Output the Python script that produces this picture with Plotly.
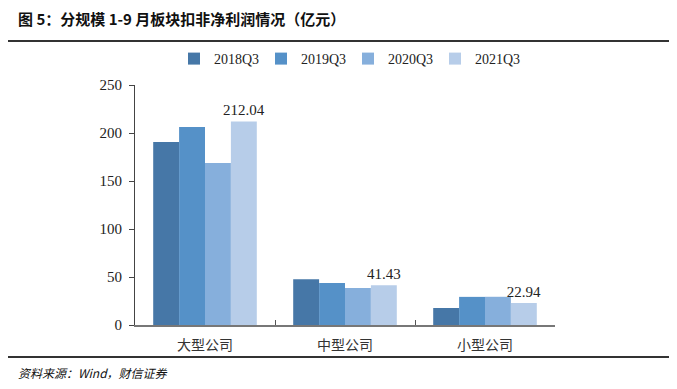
import plotly.graph_objects as go

categories = ["大型公司", "中型公司", "小型公司"]
series_names = ["2018Q3", "2019Q3", "2020Q3", "2021Q3"]
v2018 = [190.6, 47.6, 17.7]
v2019 = [206.3, 43.7, 29.3]
v2020 = [168.8, 38.5, 29.4]
v2021 = [212.04, 41.43, 22.94]
colors = ["#4677a7", "#5591c8", "#86afdc", "#b7cde9"]
tick_vals = [0, 50, 100, 150, 200, 250]

# page offset compensation (page renders the figure shifted by ~8px)
OFF = 8
W, H = 677, 389
L, R, T, B = 135 - OFF, 122 + OFF, 85 - OFF, 64 + OFF
pw, ph = W - L - R, H - T - B
def px(x): return (x - OFF - L) / pw
def py(y): return (H - B - (y - OFF)) / ph

fig = go.Figure()
for name, vals, c in zip(series_names, [v2018, v2019, v2020, v2021], colors):
    kw = {}
    if name == "2021Q3":
        kw = dict(text=[f"{v:.2f}" for v in vals], textposition="outside", constraintext="none",
                  textfont=dict(family="Liberation Serif", size=15, color="#222"),
                  cliponaxis=False)
    fig.add_trace(go.Bar(x=categories, y=vals, name=name,
                         marker=dict(color=c, line=dict(width=0)), **kw))

fig.update_layout(
    width=W, height=H,
    barmode="group", bargap=0.26, bargroupgap=0,
    plot_bgcolor="white", paper_bgcolor="white",
    margin=dict(l=L, r=R, t=T, b=B, autoexpand=False),
    showlegend=True,
    legend=dict(orientation="h", x=px(174), y=py(43), xref="paper", yref="paper",
                yanchor="top", xanchor="left",
                font=dict(family="Liberation Serif", size=14, color="#222"),
                itemwidth=30, traceorder="normal", entrywidth=42, entrywidthmode="pixels"),
    font=dict(family="Liberation Serif", size=14, color="#222"),
)
fig.update_yaxes(range=[0, 250], tickvals=tick_vals, showgrid=False, showline=True, automargin=False,
                 linecolor="#444", linewidth=1, ticks="outside", ticklen=5, tickcolor="#444",
                 ticklabelstandoff=4,
                 tickfont=dict(family="Liberation Serif", size=15, color="#222"), zeroline=False)
fig.update_xaxes(showline=True, linecolor="#777", linewidth=1.5, ticks="inside", tickson="boundaries",
                 ticklen=5, tickcolor="#555", automargin=False, ticklabelstandoff=6,
                 tickfont=dict(family="Noto Sans CJK SC", size=14, color="#333"))

fig.add_annotation(text="<b>图 5：分规模 1-9 月板块扣非净利润情况（亿元）</b>",
                   xref="paper", yref="paper", x=px(16), y=py(18), xanchor="left", yanchor="middle",
                   showarrow=False, font=dict(family="Noto Sans CJK SC", size=15, color="#111"))
fig.add_annotation(text="<i>资料来源：Wind，财信证券</i>",
                   xref="paper", yref="paper", x=px(16), y=py(372), xanchor="left", yanchor="middle",
                   showarrow=False, font=dict(family="Noto Sans CJK SC", size=12, color="#111"))
fig.update_layout(shapes=[
    dict(type="line", xref="paper", yref="paper", x0=px(8), x1=px(677), y0=py(41), y1=py(41),
         line=dict(color="#333", width=2)),
    dict(type="line", xref="paper", yref="paper", x0=px(8), x1=px(677), y0=py(357), y1=py(357),
         line=dict(color="#333", width=2)),
])

fig.write_html("out.html")
